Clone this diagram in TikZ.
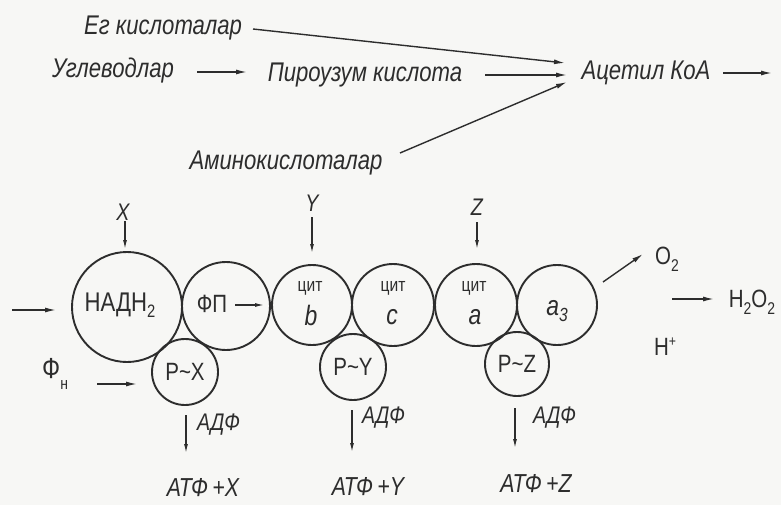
\documentclass[tikz,border=0pt]{standalone}
\usepackage{fontspec}
\setmainfont{Liberation Sans}[FakeStretch=0.82]
\usetikzlibrary{arrows.meta,calc}
\definecolor{ink}{RGB}{45,45,45}
\definecolor{paper}{RGB}{247,247,245}
\tikzset{
  lbl/.style={font=\fontsize{27}{27}\selectfont\itshape, inner sep=0pt, text=ink},
  sm/.style={font=\fontsize{24}{24}\selectfont\itshape, inner sep=0pt, text=ink},
  up/.style={font=\fontsize{25}{25}\selectfont, inner sep=0pt, text=ink},
  cit/.style={font=\fontsize{19}{19}\selectfont, inner sep=0pt, text=ink},
  ring/.style={circle, draw=ink, line width=1.9pt, inner sep=0pt, text=ink, align=center},
  arr/.style={-{Latex[length=11pt,width=5pt]}, line width=1.4pt, draw=ink},
  sarr/.style={-{Latex[length=9pt,width=4pt]}, line width=1.2pt, draw=ink},
}
\begin{document}
\begin{tikzpicture}[x=1pt,y=-1pt]
\fill[paper] (0,0) rectangle (781,505);
\useasboundingbox (0,0) rectangle (781,505);

% sources of acetyl-CoA
\node[lbl] (eg)    at (163,28)  {Ег кислоталар};
\node[lbl] (ugl)   at (113,71)  {Углеводлар};
\node[lbl] (pir)   at (365,75)  {Пироузум кислота};
\node[lbl] (acet)  at (646,73)  {Ацетил КоА};
\node[lbl] (amino) at (286,163) {Аминокислоталар};
\coordinate (acetout) at (772,73);

\draw[arr] ($(eg)+(90,1)$) -- ($(acet)+(-81,-10)$);
\draw[arr] ($(ugl)+(84,1)$) -- ($(pir)+(-118,-3)$);
\draw[arr] ($(pir)+(120,0)$) -- ($(acet)+(-79,2)$);
\draw[arr] ($(amino)+(114,-10)$) -- ($(acet)+(-79,9)$);
\draw[arr] ($(acet)+(77,0)$) -- (acetout);

% respiratory chain
\node[ring, minimum size=110pt] (nadh) at (127,307) {};
\node[up, font=\fontsize{27}{27}\selectfont] (nadhtxt) at (120,305) {НАДН\raisebox{-6pt}{\fontsize{18}{18}\selectfont 2}};
\node[ring, minimum size=88pt]  (fp)   at (226,306) {};
\node[up] (fptxt) at (212,304) {ФП};
\draw[sarr] ($(fp)+(9,-1)$) -- ($(fp)+(38,-1)$);

\node[ring, minimum size=80pt] (cb) at (312,305) {};
\node[ring, minimum size=82pt] (cc) at (393,305) {};
\node[ring, minimum size=82pt] (ca) at (476,305) {};
\node[ring, minimum size=80pt] (a3) at (557,305) {};
\node[cit] (cbt) at ($(cb)+(-2,-17)$) {цит};
\node[cit] (cct) at ($(cc)+(0,-17)$) {цит};
\node[cit] (cat) at ($(ca)+(-2,-17)$) {цит};
\node[lbl, font=\fontsize{28}{28}\selectfont\itshape] (cbl) at ($(cb)+(-1,10)$) {b};
\node[lbl, font=\fontsize{28}{28}\selectfont\itshape] (ccl) at ($(cc)+(-1,12)$) {c};
\node[lbl, font=\fontsize{28}{28}\selectfont\itshape] (cal) at ($(ca)+(-1,12)$) {a};
\node[lbl, font=\fontsize{28}{28}\selectfont\itshape] (a3l) at ($(a3)+(0,6)$) {a\raisebox{-6pt}{\fontsize{19}{19}\selectfont 3}};

\node[ring, minimum size=66pt] (px) at (185,372) {\fontsize{25}{25}\selectfont Р\textasciitilde X};
\node[ring, minimum size=66pt] (py) at (353,367) {\fontsize{25}{25}\selectfont Р\textasciitilde Y};
\node[ring, minimum size=64pt] (pz) at (517,364) {\fontsize{25}{25}\selectfont Р\textasciitilde Z};

% substrates entering
\node[sm] (x) at (123,212) {X};
\node[sm] (y) at (312,203) {Y};
\node[sm] (z) at (477,207) {Z};
\draw[sarr] ($(x)+(2,9)$) -- ($(nadh)+(-2,-58)$);
\draw[sarr] ($(y)+(0,14)$) -- ($(cb)+(0,-52)$);
\draw[sarr] ($(z)+(0,15)$) -- ($(ca)+(1,-56)$);

\coordinate (inleft) at (12,310);
\draw[arr] (inleft) -- ($(nadh)+(-71,3)$);

\node[up, anchor=west] (fn) at (42,374) {\fontsize{29}{29}\selectfont Ф\raisebox{-11pt}{\fontsize{17}{17}\selectfont н}};
\draw[arr] ($(fn.west)+(55,10)$) -- ($(px)+(-48,12)$);

% oxygen side
\node[up] (o2)   at (667,259) {O\raisebox{-7pt}{\fontsize{17}{17}\selectfont 2}};
\node[up] (h2o2) at (752,302) {H\raisebox{-7pt}{\fontsize{17}{17}\selectfont 2}O\raisebox{-7pt}{\fontsize{17}{17}\selectfont 2}};
\node[up] (hp) at (665,347) {H\raisebox{9pt}{\fontsize{15}{15}\selectfont +}};
\coordinate (h2start) at (672,299);
\draw[arr] ($(a3)+(46,-23)$) -- ($(o2)+(-24,-5)$);
\draw[arr] (h2start) -- ($(h2o2)+(-38,-3)$);

% phosphorylation
\node[lbl, font=\fontsize{26}{26}\selectfont\itshape] (atfx) at (203,488) {АТФ\,+X};
\node[lbl, font=\fontsize{26}{26}\selectfont\itshape] (atfy) at (368,487) {АТФ\,+Y};
\node[lbl, font=\fontsize{26}{26}\selectfont\itshape] (atfz) at (536,484) {АТФ\,+Z};
\node[sm, anchor=west] (adx) at (197,425) {АДФ};
\node[sm, anchor=west] (ady) at (362,418) {АДФ};
\node[sm, anchor=west] (adz) at (533,418) {АДФ};
\draw[sarr] ($(px)+(1,43)$) -- ($(atfx)+(-17,-35)$);
\draw[sarr] ($(py)+(-1,43)$) -- ($(atfy)+(-16,-35)$);
\draw[sarr] ($(pz)+(-2,44)$) -- ($(atfz)+(-21,-36)$);
\end{tikzpicture}
\end{document}
